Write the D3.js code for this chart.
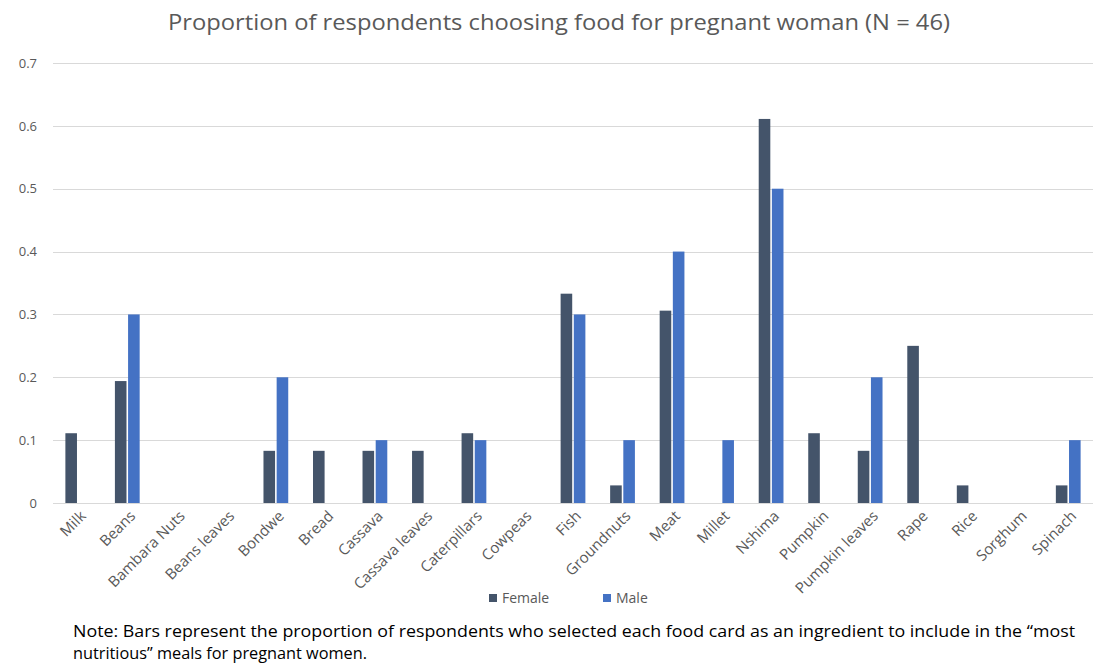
<!DOCTYPE html>
<html>
<head>
<meta charset="utf-8">
<script src="https://cdn.jsdelivr.net/npm/d3@7"></script>
<style>
  html, body { margin: 0; padding: 0; background: #ffffff; }
  svg { display: block; }
  text { font-family: "Open Sans", "Liberation Sans", sans-serif; }
</style>
</head>
<body>
<svg id="chart" width="1095" height="663"></svg>
<script>
const categories = ["Milk", "Beans", "Bambara Nuts", "Beans leaves", "Bondwe", "Bread", "Cassava",
  "Cassava leaves", "Caterpillars", "Cowpeas", "Fish", "Groundnuts", "Meat", "Millet", "Nshima",
  "Pumpkin", "Pumpkin leaves", "Rape", "Rice", "Sorghum", "Spinach"];
const femaleValues = [0.111, 0.194, 0, 0, 0.083, 0.083, 0.083, 0.083, 0.111, 0, 0.333, 0.028, 0.306, 0,
  0.611, 0.111, 0.083, 0.25, 0.028, 0, 0.028];
const maleValues = [0, 0.3, 0, 0, 0.2, 0, 0.1, 0, 0.1, 0, 0.3, 0.1, 0.4, 0.1, 0.5, 0, 0.2, 0, 0, 0, 0.1];
const seriesNames = ["Female", "Male"];
const yTicks = [0, 0.1, 0.2, 0.3, 0.4, 0.5, 0.6, 0.7];
const titleText = "Proportion of respondents choosing food for pregnant woman (N = 46)";
const noteLines = [
  "Note: Bars represent the proportion of respondents who selected each food card as an ingredient to include in the \u201cmost",
  "nutritious\u201d meals for pregnant women."
];

const colors = { Female: "#44546a", Male: "#4472c4" };
const textGray = "#595959";

const svg = d3.select("#chart");
const margin = { left: 53, right: 1093, top: 63, bottom: 503 };

const x0 = d3.scaleBand().domain(categories).range([margin.left, margin.right])
  .paddingInner(0.5).paddingOuter(0.25);
const x1 = d3.scaleBand().domain(seriesNames).range([0, x0.bandwidth()]).paddingInner(0.12);
const y = d3.scaleLinear().domain([0, 0.7]).range([margin.bottom, margin.top]);

// gridlines
svg.append("g").selectAll("line").data(yTicks).join("line")
  .attr("x1", margin.left).attr("x2", margin.right)
  .attr("y1", d => Math.round(y(d)) + 0.5).attr("y2", d => Math.round(y(d)) + 0.5)
  .attr("stroke", "#d9d9d9").attr("stroke-width", 1);

// y axis labels
const yAxis = d3.axisLeft(y).tickValues(yTicks).tickSize(0).tickPadding(0)
  .tickFormat(d => d === 0 ? "0" : d3.format(".1f")(d));
const yg = svg.append("g").attr("transform", `translate(${37},0)`).call(yAxis);
yg.select(".domain").remove();
yg.selectAll("text").attr("fill", textGray).style("font-size", "13px")
  .style("font-family", "'Open Sans', sans-serif");

// bars
const data = categories.map((c, i) => ({ cat: c, Female: femaleValues[i], Male: maleValues[i] }));
const groups = svg.append("g").selectAll("g").data(data).join("g")
  .attr("transform", d => `translate(${x0(d.cat)},0)`);
groups.selectAll("rect").data(d => seriesNames.map(s => ({ s, v: d[s] }))).join("rect")
  .attr("x", d => x1(d.s)).attr("width", x1.bandwidth())
  .attr("y", d => y(d.v)).attr("height", d => y(0) - y(d.v))
  .attr("fill", d => colors[d.s]);

// x axis labels
const xAxis = d3.axisBottom(x0).tickSize(0).tickPadding(0);
const xg = svg.append("g").attr("transform", `translate(0,${margin.bottom})`).call(xAxis);
xg.select(".domain").remove();
xg.selectAll("text")
  .attr("fill", textGray).style("font-size", "15px")
  .style("font-family", "'Open Sans', sans-serif")
  .attr("text-anchor", "end")
  .attr("dy", null).attr("y", null)
  .attr("transform", "translate(9,14) rotate(-45)");

// legend
const legend = svg.append("g").attr("transform", "translate(489,598)");
const legItems = [{ s: "Female", x: 0 }, { s: "Male", x: 114 }];
legItems.forEach(it => {
  legend.append("rect").attr("x", it.x).attr("y", -4).attr("width", 8).attr("height", 8)
    .attr("fill", colors[it.s]);
  legend.append("text").attr("x", it.x + 13).attr("y", 0).attr("dy", "0.35em")
    .attr("fill", textGray).style("font-size", "14px").text(it.s);
});

// title
svg.append("text").attr("x", 559).attr("y", 30).attr("text-anchor", "middle")
  .attr("fill", textGray).style("font-size", "22.5px")
  .attr("textLength", 782).attr("lengthAdjust", "spacingAndGlyphs")
  .text(titleText);

// note
svg.append("text").attr("x", 73).attr("y", 637).attr("fill", "#000")
  .style("font-size", "17px").attr("textLength", 1002).attr("lengthAdjust", "spacingAndGlyphs")
  .text(noteLines[0]);
svg.append("text").attr("x", 73).attr("y", 659).attr("fill", "#000")
  .style("font-size", "17px").attr("textLength", 294).attr("lengthAdjust", "spacingAndGlyphs")
  .text(noteLines[1]);
</script>
</body>
</html>
